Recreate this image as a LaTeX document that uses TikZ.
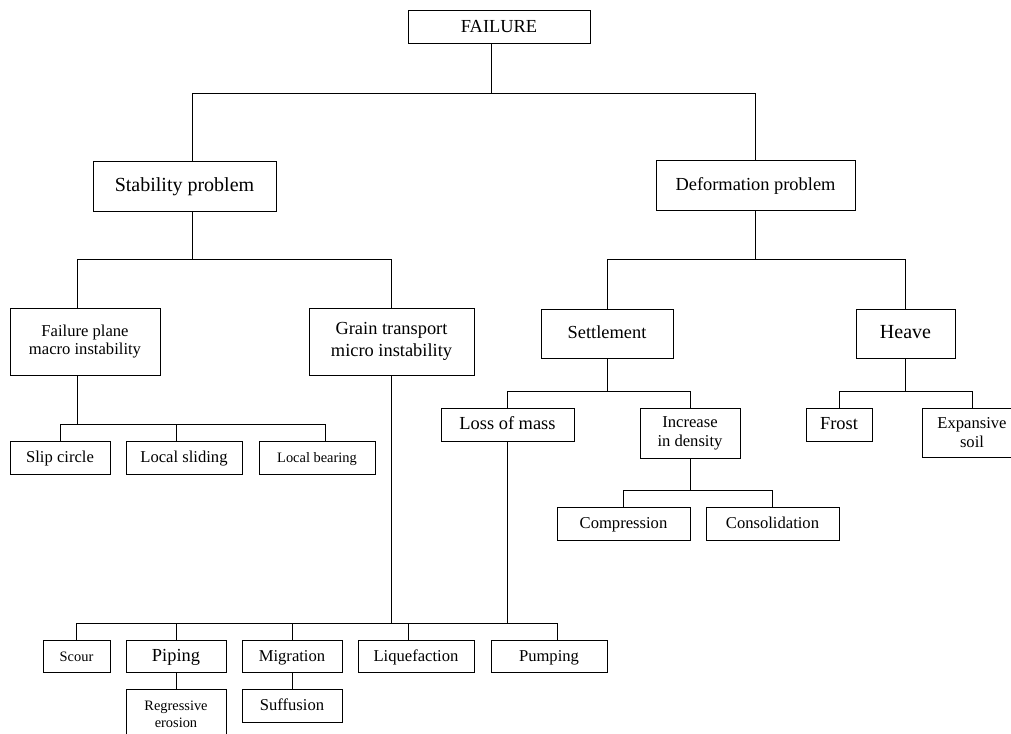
\documentclass[tikz,border=0pt]{standalone}
\usepackage{fontspec}
\setmainfont{Liberation Serif}
\usetikzlibrary{calc}
\tikzset{
  box/.style={draw,rectangle,inner sep=1pt,align=center},
  line1/.style={box,text height=1.55ex,text depth=0.45ex},
  t10/.style={font=\fontsize{10}{12}\selectfont},
  t9/.style={font=\fontsize{9.2}{11}\selectfont},
  t8/.style={font=\fontsize{8.3}{9.4}\selectfont},
  t7/.style={font=\fontsize{7.2}{8.4}\selectfont}
}
\begin{document}
\begin{tikzpicture}[x=0.5pt,y=-0.5pt,line width=0.5pt]
  \useasboundingbox (0,0) rectangle (1011,733);

  % top levels
  \node[line1,t9,minimum width=91pt,minimum height=16.5pt] (fail) at (499,27.5) {FAILURE};
  \node[line1,t10,minimum width=91.5pt,minimum height=25pt] (stab) at (184.5,186) {Stability problem};
  \node[line1,t9,minimum width=99.5pt,minimum height=25pt] (deform) at (755.5,185) {Deformation problem};

  \node[box,t8,minimum width=75pt,minimum height=33.5pt] (fplane) at (85,341.5) {Failure plane\\macro instability};
  \node[box,t9,minimum width=82.5pt,minimum height=33.5pt] (grain) at (391.5,341.5) {Grain transport\\micro instability};
  \node[line1,t9,minimum width=66pt,minimum height=24.5pt] (settle) at (607,333.5) {Settlement};
  \node[line1,t10,minimum width=49.5pt,minimum height=24.5pt] (heave) at (905.5,333.5) {Heave};

  % failure plane branch
  \node[line1,t8,minimum width=50pt,minimum height=16.5pt] (slip) at (60,457.5) {Slip circle};
  \node[line1,t8,minimum width=58pt,minimum height=16.5pt] (lslide) at (184,457.5) {Local sliding};
  \node[line1,t7,minimum width=58pt,minimum height=16.5pt] (lbear) at (317,457.5) {Local bearing};

  % settlement and heave branch
  \node[line1,t9,minimum width=66.5pt,minimum height=16.5pt] (loss) at (507.5,424.5) {Loss of mass};
  \node[box,t8,minimum width=50pt,minimum height=25pt] (incr) at (690,433) {Increase\\in density};
  \node[line1,t9,minimum width=33pt,minimum height=16.5pt] (frost) at (839,424.5) {Frost};
  \node[box,t8,minimum width=50pt,minimum height=24.5pt] (expans) at (972,432.5) {Expansive\\soil};
  \node[line1,t8,minimum width=66.5pt,minimum height=16.5pt] (compr) at (623.5,523.5) {Compression};
  \node[line1,t8,minimum width=66.5pt,minimum height=16.5pt] (consol) at (772.5,523.5) {Consolidation};

  % grain transport branch
  \node[line1,t7,minimum width=33.5pt,minimum height=16pt] (scour) at (76.5,656) {Scour};
  \node[line1,t9,minimum width=50pt,minimum height=16pt] (piping) at (176,656) {Piping};
  \node[line1,t8,minimum width=50pt,minimum height=16pt] (migr) at (292,656) {Migration};
  \node[line1,t8,minimum width=58pt,minimum height=16pt] (liquef) at (416,656) {Liquefaction};
  \node[line1,t8,minimum width=58pt,minimum height=16pt] (pump) at (549,656) {Pumping};
  \node[box,t7,minimum width=50pt,minimum height=25pt] (regr) at (176,714) {Regressive\\erosion};
  \node[line1,t8,minimum width=50pt,minimum height=16.5pt] (suff) at (292,705.5) {Suffusion};

  % connectors
  \draw ($(fail.south)+(-8,0)$) -- ++(0,49.5) -| ($(stab.north)+(7.5,0)$);
  \draw ($(fail.south)+(-8,0)$) -- ++(0,49.5) -| (deform.north);

  \draw ($(stab.south)+(7.5,0)$) -- ++(0,47.5) -| ($(fplane.north)+(-8,0)$);
  \draw ($(stab.south)+(7.5,0)$) -- ++(0,47.5) -| (grain.north);
  \draw (deform.south) -- ++(0,49) -| (settle.north);
  \draw (deform.south) -- ++(0,49) -| (heave.north);

  \draw ($(fplane.south)+(-8,0)$) -- ++(0,49) -| (slip.north);
  \draw ($(fplane.south)+(-8,0)$) -- ++(0,49) -| ($(lslide.north)+(-8,0)$);
  \draw ($(fplane.south)+(-8,0)$) -- ++(0,49) -| ($(lbear.north)+(8,0)$);

  \draw (settle.south) -- ++(0,33) -| (loss.north);
  \draw (settle.south) -- ++(0,33) -| (incr.north);
  \draw (heave.south) -- ++(0,33) -| (frost.north);
  \draw (heave.south) -- ++(0,33) -| (expans.north);
  \draw (incr.south) -- ++(0,32) -| (compr.north);
  \draw (incr.south) -- ++(0,32) -| (consol.north);

  \draw (grain.south) -- ++(0,248) -| (scour.north);
  \draw (grain.south) -- ++(0,248) -| (piping.north);
  \draw (grain.south) -- ++(0,248) -| (migr.north);
  \draw (grain.south) -- ++(0,248) -| ($(liquef.north)+(-8,0)$);
  \draw (grain.south) -- ++(0,248) -| ($(pump.north)+(8,0)$);
  \draw (loss.south) -- ++(0,182) -| ($(pump.north)+(8,0)$);

  \draw (piping.south) -- (regr.north);
  \draw (migr.south) -- (suff.north);
\end{tikzpicture}
\end{document}
